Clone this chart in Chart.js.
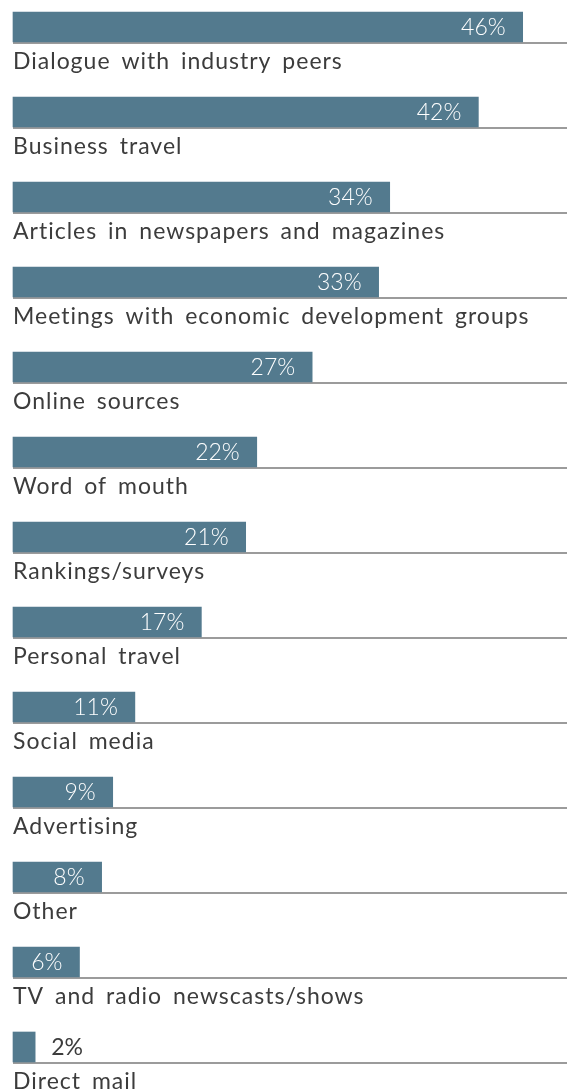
<!DOCTYPE html>
<html>
<head>
<meta charset="utf-8">
<script src="https://cdn.jsdelivr.net/npm/chart.js@4"></script>
<style>
    html, body { margin: 0; padding: 0; background: #fff; overflow: hidden; }
    #wrap { position: relative; width: 567px; height: 1090px; }
</style>
</head>
<body>
<div id="wrap"><canvas id="sourcesChart"></canvas></div>
<script>
// Données
const sources = [
    'Dialogue with industry peers',
    'Business travel',
    'Articles in newspapers and magazines',
    'Meetings with economic development groups',
    'Online sources',
    'Word of mouth',
    'Rankings/surveys',
    'Personal travel',
    'Social media',
    'Advertising',
    'Other',
    'TV and radio newscasts/shows',
    'Direct mail'
];
const shares = [46, 42, 34, 33, 27, 22, 21, 17, 11, 9, 8, 6, 2];
const xMax = 50;

const barColor = '#537a8e';
const ruleColor = '#9b9b9b';
const textColor = '#3c3c3c';
const fontFamily = 'Lato, "Noto Sans", sans-serif';

// Filet gris sous chaque barre + libellés
const labelsPlugin = {
    id: 'rowLabels',
    beforeDatasetsDraw(chart) {
        const { ctx, chartArea, scales } = chart;
        ctx.save();
        ctx.fillStyle = ruleColor;
        sources.forEach((s, i) => {
            const y = scales.y.getPixelForValue(i);
            ctx.fillRect(chartArea.left, y + 15, chartArea.right - chartArea.left, 2);
        });
        ctx.restore();
    },
    afterDatasetsDraw(chart) {
        const { ctx, chartArea, scales } = chart;
        ctx.save();
        sources.forEach((s, i) => {
            const y = scales.y.getPixelForValue(i);
            // libellé de la catégorie
            ctx.font = '400 23px ' + fontFamily;
            ctx.letterSpacing = '1px';
            ctx.wordSpacing = '4px';
            ctx.fillStyle = textColor;
            ctx.textAlign = 'left';
            ctx.textBaseline = 'alphabetic';
            ctx.fillText(s, chartArea.left, y + 42);

            // valeur : dans la barre si elle est assez longue, sinon à côté
            ctx.letterSpacing = '0px';
            ctx.wordSpacing = '0px';
            ctx.font = '300 23px ' + fontFamily;
            const txt = shares[i] + '%';
            const x0 = scales.x.getPixelForValue(0);
            const x1 = scales.x.getPixelForValue(shares[i]);
            const w = ctx.measureText(txt).width;
            ctx.textBaseline = 'middle';
            if (x1 - x0 > w + 30) {
                ctx.fillStyle = '#ffffff';
                ctx.textAlign = 'right';
                ctx.fillText(txt, x1 - 17, y + 1);
            } else {
                ctx.font = '400 23px ' + fontFamily;
                ctx.fillStyle = textColor;
                ctx.textAlign = 'left';
                ctx.fillText(txt, x1 + 16, y + 1);
            }
        });
        ctx.restore();
    }
};

new Chart(document.getElementById('sourcesChart'), {
    type: 'bar',
    data: {
        labels: sources,
        datasets: [{
            data: shares,
            backgroundColor: barColor,
            borderWidth: 0,
            barThickness: 30,
            clip: false
        }]
    },
    options: {
        indexAxis: 'y',
        responsive: true,
        maintainAspectRatio: false,
        animation: false,
        layout: { padding: { left: 13, right: 0, top: 27, bottom: 43 } },
        plugins: {
            legend: { display: false },
            tooltip: { enabled: false }
        },
        scales: {
            x: { display: false, min: 0, max: xMax },
            y: { display: false, offset: false }
        }
    },
    plugins: [labelsPlugin]
});
</script>
</body>
</html>
